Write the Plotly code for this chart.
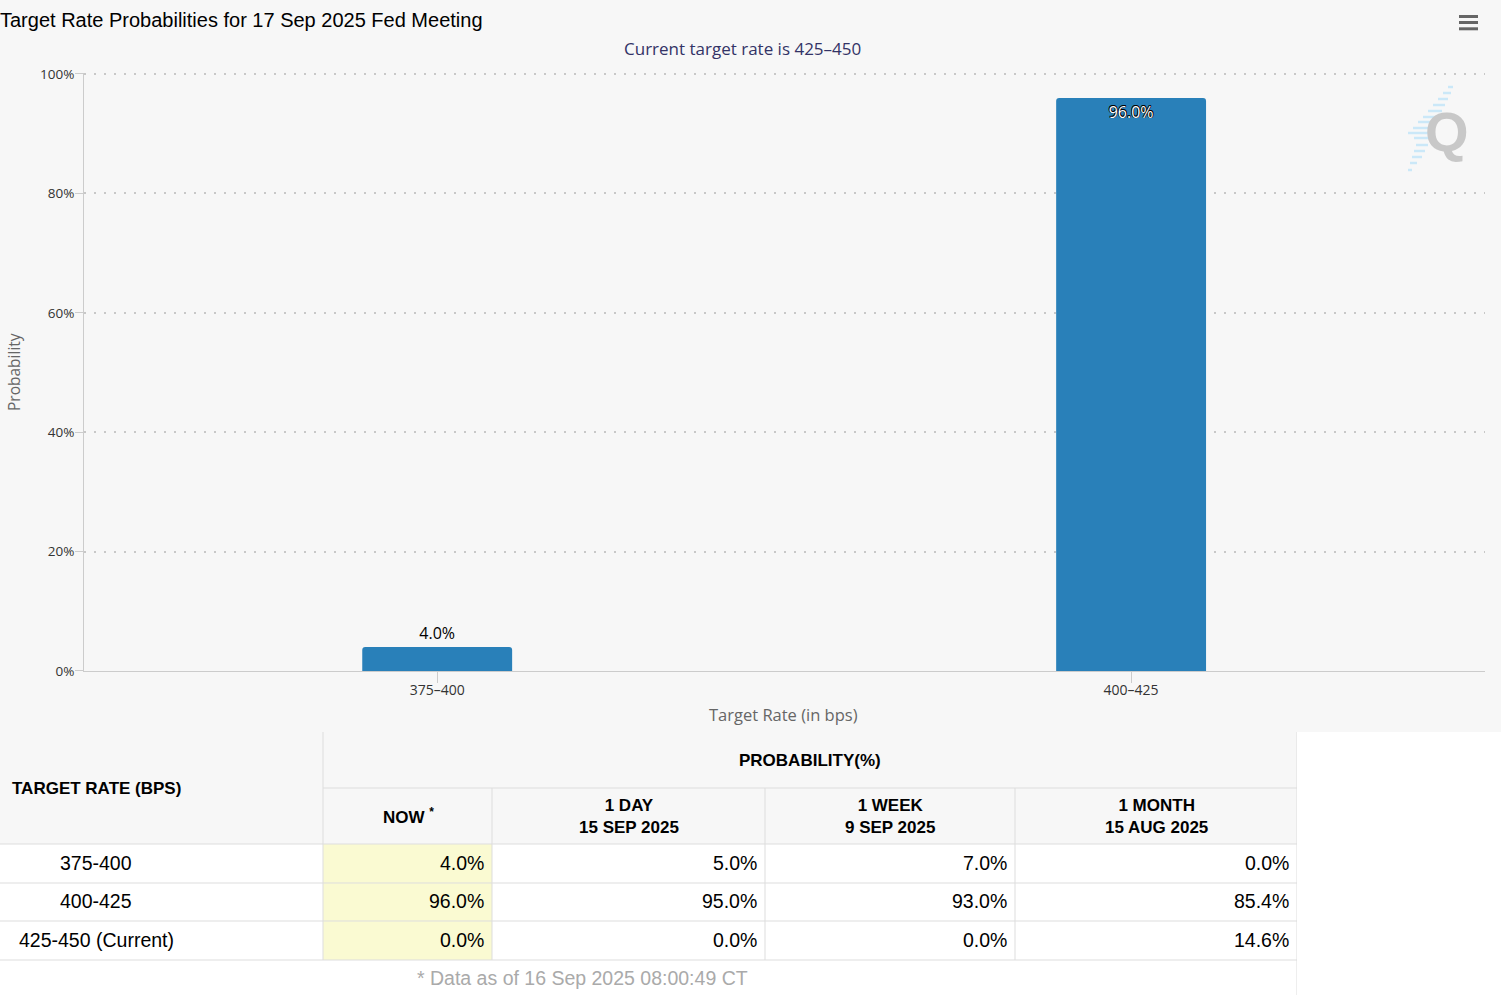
import plotly.graph_objects as go

W, H = 1501, 995


def px(x):
    return x / W


def py(y):
    return 1 - y / H


# ---------------- data ----------------
chart_title = "Target Rate Probabilities for 17 Sep 2025 Fed Meeting"
chart_subtitle = "Current target rate is 425–450"
chart_categories = ["375–400", "400–425"]
chart_probs = [4.0, 96.0]
y_tick_values = [0, 20, 40, 60, 80, 100]

table_rates = ["375-400", "400-425", "425-450 (Current)"]
now_probs = [4.0, 96.0, 0.0]
day_probs = [5.0, 95.0, 0.0]
week_probs = [7.0, 93.0, 0.0]
month_probs = [0.0, 85.4, 14.6]
period_headers = ["NOW <sup>*</sup>", "1 DAY<br>15 SEP 2025", "1 WEEK<br>9 SEP 2025", "1 MONTH<br>15 AUG 2025"]
footnote = "* Data as of 16 Sep 2025 08:00:49 CT"

# ---------------- styles ----------------
BAR_COLOR = "#2980b9"
CHART_BG = "#f7f7f7"
GRID = "#c8c8c8"
AXIS = "#cccccc"
CELL_LINE = "#dddddd"
NOW_FILL = "#fafad2"
CHART_FONT = "Open Sans"
TABLE_FONT = "Liberation Sans"

Y_TOP = 100.2  # small headroom so the 100% gridline is drawn
PLOT_TOP_PX = 74 - (671 - 74) * (Y_TOP - 100) / 100

fig = go.Figure()

fig.add_trace(go.Bar(
    x=chart_categories,
    y=chart_probs,
    marker=dict(color=BAR_COLOR, line=dict(width=0)),
    text=[f"{v:.1f}%" for v in chart_probs],
    textposition=["outside" if v < 50 else "inside" for v in chart_probs],
    insidetextanchor="end",
    textangle=0,
    constraintext="none",
    cliponaxis=False,
    outsidetextfont=dict(family=CHART_FONT, size=16, color="#000000"),
    insidetextfont=dict(family=CHART_FONT, size=16, color="#ffffff",
                        shadow="-0.6px -0.6px 0 #000, 0.6px -0.6px 0 #000, -0.6px 0.6px 0 #000, 0.6px 0.6px 0 #000"),
    hoverinfo="skip",
    xaxis="x", yaxis="y",
))

# invisible anchor trace for the table subplot
fig.add_trace(go.Scatter(x=[0], y=[995], mode="markers", marker=dict(opacity=0),
                         hoverinfo="skip", showlegend=False, xaxis="x2", yaxis="y2"))

# table geometry (pixels inside table axes)
col_edges = [0, 323, 492, 765, 1015, 1297]
TOP, MID, HEAD_BOT = 732, 788, 844
row_edges = [844, 883, 921, 960]

shapes = []
shapes.append(dict(type="rect", xref="paper", yref="paper", x0=0, x1=1, y0=py(732), y1=1,
                   fillcolor=CHART_BG, line=dict(width=0), layer="below"))
shapes.append(dict(type="rect", xref="x2", yref="y2", x0=col_edges[0], x1=col_edges[-1], y0=TOP, y1=HEAD_BOT,
                   fillcolor=CHART_BG, line=dict(width=0), layer="below"))
shapes.append(dict(type="rect", xref="x2", yref="y2", x0=col_edges[1], x1=col_edges[2], y0=row_edges[0], y1=row_edges[-1],
                   fillcolor=NOW_FILL, line=dict(width=0), layer="below"))


def hline(y, x0, x1):
    shapes.append(dict(type="line", xref="x2", yref="y2", x0=x0, x1=x1, y0=y, y1=y,
                       line=dict(color=CELL_LINE, width=1)))


def vline(x, y0, y1):
    shapes.append(dict(type="line", xref="x2", yref="y2", x0=x, x1=x, y0=y0, y1=y1,
                       line=dict(color=CELL_LINE, width=1)))


hline(MID, col_edges[1], col_edges[-1])
for ry in row_edges:
    hline(ry, col_edges[0], col_edges[-1])
vline(col_edges[1], TOP, row_edges[-1])
for cx in col_edges[2:-1]:
    vline(cx, MID, row_edges[-1])
vline(col_edges[-1], TOP, 995)

# hamburger menu icon
for yy in [16.5, 22.5, 28.8]:
    shapes.append(dict(type="line", xref="paper", yref="paper", x0=px(1459), x1=px(1478), y0=py(yy), y1=py(yy),
                       line=dict(color="#666666", width=3)))

# logo stripes (decoration)
stripes = [(87, 1448, 1453), (93, 1443, 1451), (99, 1438, 1448), (105, 1433, 1445), (111, 1428, 1442),
           (117, 1423, 1438), (122, 1418, 1433), (128, 1413, 1432), (133, 1408, 1430), (138, 1414, 1429),
           (145, 1416, 1428), (151, 1414, 1425), (157, 1412, 1422), (163, 1410, 1417), (170, 1408, 1412)]
for (sy, sx0, sx1) in stripes:
    shapes.append(dict(type="line", xref="paper", yref="paper", x0=px(sx0), x1=px(sx1), y0=py(sy), y1=py(sy),
                       line=dict(color="#cbe8f8", width=2.5)))

annotations = []
annotations.append(dict(text=chart_subtitle, x=px(742), y=py(49), xref="paper", yref="paper",
                        showarrow=False, xanchor="center", yanchor="middle",
                        font=dict(family=CHART_FONT, size=17, color="#333366")))
annotations.append(dict(text="Target Rate (in bps)", x=px(784), y=py(714), xref="paper", yref="paper",
                        showarrow=False, xanchor="center", yanchor="middle",
                        font=dict(family=CHART_FONT, size=16.5, color="#666666")))
annotations.append(dict(text="Probability", x=px(14), y=py(372), xref="paper", yref="paper",
                        showarrow=False, xanchor="center", yanchor="middle", textangle=-90,
                        font=dict(family=CHART_FONT, size=15.5, color="#666666")))
annotations.append(dict(text="<b>Q</b>", x=px(1447), y=py(131), xref="paper", yref="paper",
                        showarrow=False, xanchor="center", yanchor="middle",
                        font=dict(family=TABLE_FONT, size=56, color="#c8c8c8")))

# table headers
HFONT = dict(family=TABLE_FONT, size=17, color="#000000", weight="bold")
annotations.append(dict(text="TARGET RATE (BPS)", x=10, y=788, xref="x2", yref="y2", showarrow=False,
                        xanchor="left", yanchor="middle", font=HFONT))
annotations.append(dict(text="PROBABILITY(%)", x=(col_edges[1] + col_edges[-1]) / 2, y=760, xref="x2", yref="y2",
                        showarrow=False, xanchor="center", yanchor="middle", font=HFONT))
for i, lab in enumerate(period_headers):
    annotations.append(dict(text=lab, x=(col_edges[i + 1] + col_edges[i + 2]) / 2 + (1 if i == 0 else 0),
                            y=816, xref="x2", yref="y2", showarrow=False,
                            xanchor="center", yanchor="middle", font=HFONT))

# table body
DFONT = dict(family=TABLE_FONT, size=19.5, color="#000000")
columns = [now_probs, day_probs, week_probs, month_probs]
for r, rate in enumerate(table_rates):
    yc = (row_edges[r] + row_edges[r + 1]) / 2 - 1
    annotations.append(dict(text=rate, x=96, y=yc, xref="x2", yref="y2", showarrow=False,
                            xanchor="center", yanchor="middle", font=DFONT))
    for c, col in enumerate(columns):
        annotations.append(dict(text=f"{col[r]:.1f}%", x=col_edges[c + 2] - 6, y=yc, xref="x2", yref="y2",
                                showarrow=False, xanchor="right", yanchor="middle", font=DFONT))

annotations.append(dict(text=footnote, x=582, y=978, xref="x2", yref="y2", showarrow=False,
                        xanchor="center", yanchor="middle",
                        font=dict(family=TABLE_FONT, size=19.5, color="#aaaaaa")))

fig.update_layout(
    width=W, height=H,
    margin=dict(l=0, r=0, t=0, b=0),
    paper_bgcolor="#ffffff",
    plot_bgcolor="rgba(0,0,0,0)",
    showlegend=False,
    bargap=0.784,
    barcornerradius=3,
    title=dict(text=chart_title, x=0, xanchor="left", xref="paper", y=py(20), yanchor="middle",
               font=dict(family="Liberation Sans", size=20, color="#000000")),
    xaxis=dict(domain=[px(84), px(1485)], anchor="y", type="category", range=[-0.509, 1.510],
               showline=True, linecolor=AXIS, linewidth=1, ticks="outside", ticklen=11, tickcolor=AXIS,
               ticklabelstandoff=-5,
               tickfont=dict(family=CHART_FONT, size=14, color="#333333"), showgrid=False,
               automargin=False, fixedrange=True),
    yaxis=dict(domain=[py(671), py(PLOT_TOP_PX)], anchor="x", range=[0, Y_TOP],
               tickmode="array", tickvals=y_tick_values, ticktext=[f"{v}%" for v in y_tick_values],
               showline=True, linecolor=AXIS, linewidth=1, ticks="outside", ticklen=8, tickcolor=AXIS,
               ticklabelstandoff=-2,
               showgrid=True, gridcolor=GRID, griddash="2px,8px", gridwidth=1.5, zeroline=False,
               tickfont=dict(family=CHART_FONT, size=13.5, color="#333333"),
               automargin=False, fixedrange=True),
    xaxis2=dict(domain=[0, px(1297)], anchor="y2", range=[0, 1297], visible=False, fixedrange=True),
    yaxis2=dict(domain=[0, py(732)], anchor="x2", range=[995, 732], visible=False, fixedrange=True),
    shapes=shapes,
    annotations=annotations,
    hovermode=False,
)

fig.write_html("out.html", config={"displayModeBar": False},
               post_script="document.body.style.margin='0';")
